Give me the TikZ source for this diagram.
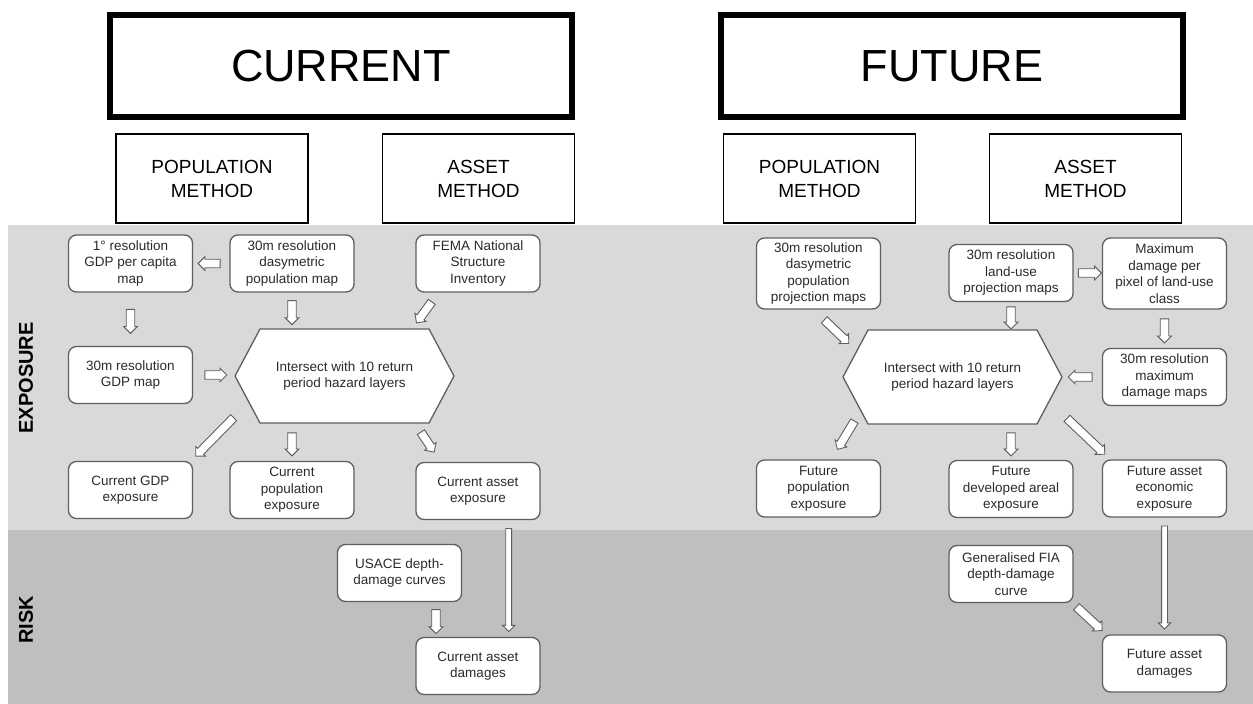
\documentclass[tikz,border=0pt]{standalone}
\usepackage{fontspec}
\setmainfont{Liberation Sans}
\usetikzlibrary{calc,shapes.arrows,shapes.symbols}

\definecolor{exposuregray}{HTML}{D9D9D9}
\definecolor{riskgray}{HTML}{BFBFBF}
\definecolor{boxline}{HTML}{5F5F5F}
\definecolor{txtgray}{HTML}{2B2B2B}

\begin{document}
\begin{tikzpicture}[x=1pt, y=-1pt,
	box/.style={draw=boxline, line width=1.3pt, fill=white, rounded corners=8pt,
		minimum width=124pt, minimum height=57pt, inner sep=2pt, align=center,
		text=txtgray, font=\fontsize{13.5}{16.5}\selectfont},
	titlebox/.style={draw=black, line width=6pt, fill=white, minimum width=462pt,
		minimum height=102pt, font=\fontsize{45}{54}\selectfont},
	methodbox/.style={draw=black, line width=1.8pt, fill=white, minimum width=192pt,
		minimum height=89pt, align=center, font=\fontsize{19}{24}\selectfont},
	hexbox/.style={draw=boxline, line width=1.3pt, fill=white, shape=signal,
		signal to=east and west, signal pointer angle=124, minimum width=219pt,
		minimum height=94pt, align=center, text=txtgray,
		font=\fontsize{13.5}{16.5}\selectfont},
	arrowbody/.style={draw=boxline, line width=0.9pt, fill=white, single arrow,
		single arrow head extend=2.6pt, minimum width=0pt, inner xsep=0pt, inner ysep=3.8pt},
	thinbody/.style={arrowbody, inner ysep=2.5pt, single arrow head extend=3.2pt},
	blk/.style={to path={let \p1=(\tikztostart), \p2=(\tikztotarget),
		\n1={atan2(\y2-\y1,\x2-\x1)} in
		node[arrowbody, minimum height=#1, rotate=\n1] at ($(\p1)!0.5!(\p2)$) {}}},
	blk/.default=24,
	blkthin/.style={to path={let \p1=(\tikztostart), \p2=(\tikztotarget),
		\n1={atan2(\y2-\y1,\x2-\x1)} in
		node[thinbody, minimum height=#1, rotate=\n1] at ($(\p1)!0.5!(\p2)$) {}}},
	bandlabel/.style={rotate=90, font=\fontsize{20}{24}\selectfont\bfseries}
]
	\useasboundingbox (0,0) rectangle (1253,704);
	% bands
	\fill[exposuregray] (8,225) rectangle (1253,530);
	\fill[riskgray] (8,530) rectangle (1253,704);
	\node[bandlabel] (lexposure) at (26,378) {EXPOSURE};
	\node[bandlabel] (lrisk) at (26,620) {RISK};

	\node[titlebox] (current) at (341,66) {CURRENT};
	\node[titlebox] (future) at (952,66) {FUTURE};
	\node[methodbox] (popC) at (212,178.5) {POPULATION\\METHOD};
	\node[methodbox] (assetC) at (478.5,178.5) {ASSET\\METHOD};
	\node[methodbox] (popF) at (819.5,178.5) {POPULATION\\METHOD};
	\node[methodbox] (assetF) at (1085.5,178.5) {ASSET\\METHOD};

	% current
	\node[box] (gdppc) at (130.5,263.5) {1° resolution\\GDP per capita\\map};
	\node[box] (dasy) at (292,263.5) {30m resolution\\dasymetric\\population map};
	\node[box] (fema) at (478,263.5) {FEMA National\\Structure\\Inventory};
	\node[box] (gdpmap) at (130.5,375) {30m resolution\\GDP map};
	\node[hexbox] (hexC) at (344.5,376) {Intersect with 10 return\\period hazard layers};
	\node[box] (expgdp) at (130.5,490) {Current GDP\\exposure};
	\node[box] (exppop) at (292,490) {Current\\population\\exposure};
	\node[box] (expasset) at (478,491) {Current asset\\exposure};
	\node[box] (usace) at (399.5,573) {USACE depth-\\damage curves};
	\node[box] (damC) at (478,666) {Current asset\\damages};

	\path (dasy.west) to[blk=22] (gdppc.east);
	\path (gdppc.south) to[blk] (gdpmap.north);
	\path (dasy.south) to[blk] (dasy.south |- hexC.north);
	\path ($(fema.south west)+(18,7)$) to[blk=26] ($(fema.south west)+(2,29)$);
	\path (gdpmap.east) to[blk=22] (gdpmap.east -| hexC.west);
	\path ($(hexC.west)+(1,40)$) to[blk=54] ($(expgdp.north east)+(4,-6)$);
	\path (exppop.north |- hexC.south) to[blk=23] (exppop.north);
	\path ($(expasset.north west)+(4,-32)$) to[blk] ($(expasset.north west)+(18,-11)$);
	\path ($(expasset.south east)+(-32,0)$) to[blkthin=103] ($(damC.north east)+(-32,0)$);
	\path ($(usace.south)+(36.5,0)$) to[blk] ($(damC.north)+(-42,0)$);

	% future
	\node[box, minimum height=71pt] (fdasy) at (818.5,273.5) {30m resolution\\dasymetric\\population\\projection maps};
	\node[box] (landuse) at (1011,273) {30m resolution\\land-use\\projection maps};
	\node[box, minimum height=71pt] (maxdam) at (1164.5,273.5) {Maximum\\damage per\\pixel of land-use\\class};
	\node[box] (maxmaps) at (1164.5,377) {30m resolution\\maximum\\damage maps};
	\node[hexbox] (hexF) at (952.5,377) {Intersect with 10 return\\period hazard layers};
	\node[box] (fexppop) at (818.5,488.5) {Future\\population\\exposure};
	\node[box] (fexpdev) at (1011,489) {Future\\developed areal\\exposure};
	\node[box] (fexpasset) at (1164.5,488.5) {Future asset\\economic\\exposure};
	\node[box] (fia) at (1011,574) {Generalised FIA\\depth-damage\\curve};
	\node[box] (damF) at (1164.5,663.5) {Future asset\\damages};

	\path ($(fdasy.south)+(3.5,8)$) to[blk=34] ($(fdasy.south)+(29.5,33)$);
	\path (landuse.south) to[blk=22] (landuse.south |- hexF.north);
	\path (landuse.east) to[blk=23] (landuse.east -| maxdam.west);
	\path (maxdam.south) to[blk] (maxmaps.north);
	\path (maxmaps.west) to[blk] (maxmaps.west -| hexF.east);
	\path ($(fexppop.north)+(37.5,-41)$) to[blk=33] ($(fexppop.north)+(19.5,-11)$);
	\path (fexpdev.north |- hexF.south) to[blk=23] (fexpdev.north);
	\path ($(fexpasset.north west)+(-37,-43)$) to[blk=52] ($(fexpasset.north west)+(2,-6)$);
	\path (fexpasset.south) to[blkthin=103] (damF.north);
	\path ($(fia.south east)+(1,2)$) to[blk=35] ($(damF.north west)+(-1,-5)$);
\end{tikzpicture}
\end{document}
